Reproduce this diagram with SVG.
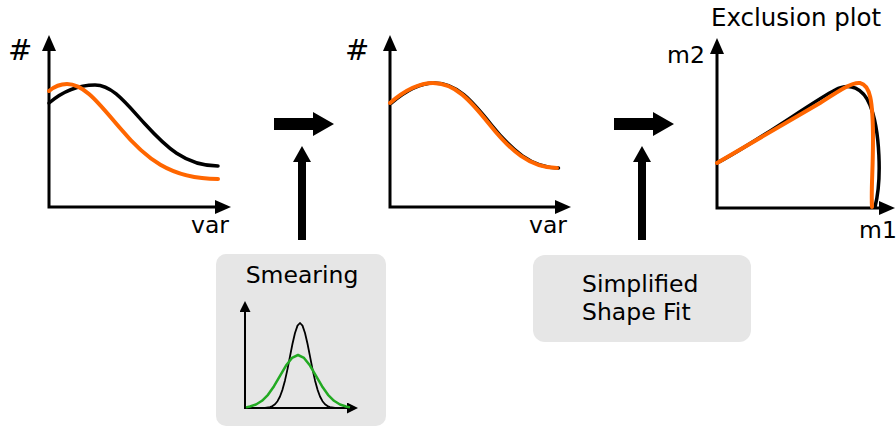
<svg xmlns="http://www.w3.org/2000/svg" width="896" height="428" viewBox="0 0 896 428">
<style>
text{font-family:"DejaVu Sans","Liberation Sans",sans-serif;fill:#000}
.lbl{font-size:23.5px}
.hash{font-size:29px}
.axis{fill:none;stroke:#000;stroke-width:3;stroke-linejoin:miter}
.axs{fill:none;stroke:#000;stroke-width:2}
.blk{fill:none;stroke:#000;stroke-width:3.5;stroke-linecap:round}
.org{fill:none;stroke:#ff6600;stroke-width:4;stroke-linecap:round}
.grn{fill:none;stroke:#22aa22;stroke-width:2.5;stroke-linejoin:round}
.thin{fill:none;stroke:#000;stroke-width:1.8;stroke-linejoin:round}
.box{fill:#e6e6e6}
.big{fill:#000}
</style>
<defs>
<marker id="ah" markerWidth="16" markerHeight="14" refX="1" refY="7" orient="auto-start-reverse" markerUnits="userSpaceOnUse"><path d="M0,0 L16,7 L0,14 z" fill="#000"/></marker>
<marker id="ahs" markerWidth="11" markerHeight="11" refX="1" refY="5.5" orient="auto-start-reverse" markerUnits="userSpaceOnUse"><path d="M0,0 L11,5.5 L0,11 z" fill="#000"/></marker>
</defs>

<g id="plot1">
<path class="axis" d="M49,50 L49,207 L216,207" marker-start="url(#ah)" marker-end="url(#ah)"/>
<path class="blk" d="M49,103 C62,92 78,85 95,85 C112,85 125,102 145,124 C165,146 185,166 218,166"/>
<path class="org" d="M49,91 C55,86 61,84 67,84 C85,84 100,105 120,128 C145,158 170,179 218,179"/>
<text class="hash" x="8" y="60">#</text>
<text class="lbl" x="191" y="233">var</text>
</g>

<g id="plot2">
<path class="axis" d="M390,50 L390,207 L556,207" marker-start="url(#ah)" marker-end="url(#ah)"/>
<path class="blk" transform="translate(1.5,0)" d="M390,103 C405,90 418,83 433,83 C455,83 470,100 490,125 C510,150 530,168 557,168"/>
<path class="org" d="M390,103 C405,90 418,83 433,83 C455,83 470,100 490,125 C510,150 530,168 557,168"/>
<text class="hash" x="345" y="60">#</text>
<text class="lbl" x="529" y="233">var</text>
</g>

<g id="plot3">
<path class="axis" d="M717,53 L717,208 L880,208" marker-start="url(#ah)" marker-end="url(#ah)"/>
<path class="blk" d="M717,163 C760,140 815,100 835,90 C850,82 863,88 870,105 C880,130 882,180 875,207"/>
<path class="org" d="M717,163 L820,103 C840,90 852,82 860,83 C870,85 873,100 873,140 C873,170 871,190 872,207"/>
<text style="font-size:24.5px" x="711" y="26">Exclusion plot</text>
<text class="lbl" x="667" y="63">m2</text>
<text class="lbl" x="859" y="238">m1</text>
</g>

<g id="smearing">
<rect class="box" x="216" y="254" width="170" height="172" rx="10"/>
<text class="lbl" x="302" y="283" text-anchor="middle">Smearing</text>
<path class="axs" d="M245,311 L245,408 L348,408" marker-start="url(#ahs)" marker-end="url(#ahs)"/>
<polyline class="thin" points="245,407.9 265,407.8 270,407.1 272.5,406.1 275,404.3 277.5,401.2 280,396.5 282.5,389.6 285,380.4 287.5,369.1 290,356.4 292.5,343.8 295,333 297.5,325.6 300,323 302.5,325.6 305,333 307.5,343.8 310,356.4 312.5,369.1 315,380.4 317.5,389.6 320,396.5 322.5,401.2 325,404.3 327.5,406.1 330,407.1 335,407.8 345,407.9"/>
<polyline class="grn" points="246,407.4 250,406.5 256,404.5 262,400.8 268,394.8 274,386.2 280,375.9 286,365.6 292,357.9 298,355 304,357.9 310,365.6 316,375.9 322,386.2 328,394.8 334,400.8 340,404.5 346,406.5 350,407.4"/>
</g>

<g id="shapefit">
<rect class="box" x="533" y="255" width="218" height="87" rx="12"/>
<text class="lbl" x="582" y="292">Simplified</text>
<text class="lbl" x="582" y="320">Shape Fit</text>
</g>

<g id="connectors">
<polygon class="big" points="274,118 313,118 313,112 334,124 313,136 313,130 274,130"/>
<polygon class="big" points="298,240 298,162 293,162 302,146 311,162 306,162 306,240"/>
<polygon class="big" points="614,118 653,118 653,112 674,124 653,136 653,130 614,130"/>
<polygon class="big" points="638,240 638,162 633,162 642,146 651,162 646,162 646,240"/>
</g>
</svg>
